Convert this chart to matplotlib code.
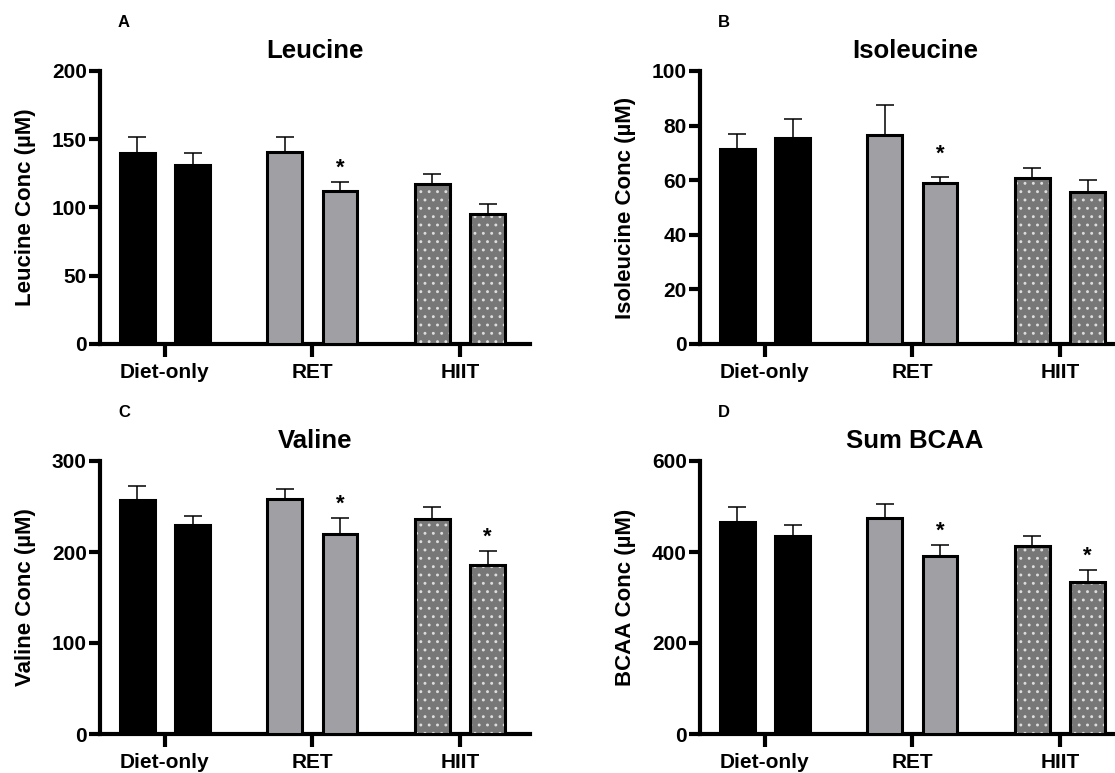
import matplotlib
matplotlib.use("Agg")

import matplotlib.pyplot as plt
import numpy as np

plt.rcParams.update(
    {
        "font.family": ["Liberation Sans", "DejaVu Sans"],
        "font.weight": "bold",
        "hatch.linewidth": 0.9,
    }
)

GROUPS = ["Diet-only", "RET", "HIIT"]

# two bars per group, in group order
LEUCINE_MEAN = [140, 131, 141, 112, 117, 95]
LEUCINE_SEM = [12, 9, 10.5, 6.5, 7.5, 7.5]
LEUCINE_STARS = [False, False, False, True, False, False]

ISOLEUCINE_MEAN = [71.5, 75.5, 76.5, 59, 60.7, 55.5]
ISOLEUCINE_SEM = [5.3, 7.1, 11.2, 2.3, 3.8, 4.6]
ISOLEUCINE_STARS = [False, False, False, True, False, False]

VALINE_MEAN = [257.5, 230, 258, 220, 236.5, 185.5]
VALINE_SEM = [15, 10, 11, 17.5, 12.5, 15.3]
VALINE_STARS = [False, False, False, True, False, True]

BCAA_MEAN = [467, 435.5, 474, 390.5, 413, 334]
BCAA_SEM = [32, 23, 32, 24.5, 22.5, 26.5]
BCAA_STARS = [False, False, False, True, False, True]

FIG_W, FIG_H = 1115, 773
DPI = 100

BAR_WIDTH = 0.235
BAR_OFFSET = 0.188
X_LEFT = -0.44
PX_PER_GROUP = 147.5

RET_GRAY = "#a09fa4"
HIIT_GRAY = "#777777"


def fig_rect(left, top, width, height):
    """Pixel box (from top-left) -> figure fraction rect."""
    return [left / FIG_W, 1 - (top + height) / FIG_H, width / FIG_W, height / FIG_H]


def draw_bars(ax, xs, means):
    for i, (x, m) in enumerate(zip(xs, means)):
        group = i // 2
        if group == 0:
            ax.bar(x, m, BAR_WIDTH, color="black", edgecolor="black", linewidth=2.2, zorder=3)
        elif group == 1:
            ax.bar(x, m, BAR_WIDTH, color=RET_GRAY, edgecolor="black", linewidth=2.2, zorder=3)
        else:
            # dotted fill: grey base, light hatch on top, then the black outline
            ax.bar(x, m, BAR_WIDTH, color=HIIT_GRAY, linewidth=0, zorder=3)
            ax.bar(x, m, BAR_WIDTH, color="none", edgecolor="#dedede", hatch="..",
                   linewidth=0, zorder=3.1)
            ax.bar(x, m, BAR_WIDTH, color="none", edgecolor="black", linewidth=2.2, zorder=3.2)


def draw_panel(fig, left, top, width, letter, title, ylabel, means, sems, stars, ymax, ystep,
               star_pad=6):
    height = 273
    ax = fig.add_axes(fig_rect(left, top, width, height))

    xs = np.repeat(np.arange(len(GROUPS)), 2) + np.tile([-BAR_OFFSET, BAR_OFFSET], len(GROUPS))
    draw_bars(ax, xs, means)
    ax.errorbar(xs, means, yerr=[np.zeros(len(means)), sems], fmt="none", ecolor="black",
                elinewidth=1.1, capsize=6.8, capthick=1.1, zorder=2)

    for x, m, s, flag in zip(xs, means, sems, stars):
        if flag:
            ax.annotate("*", xy=(x, m + s), xytext=(0, star_pad), textcoords="offset points",
                        ha="center", va="baseline", fontsize=16, fontweight="bold")

    ax.set_xlim(X_LEFT, X_LEFT + width / PX_PER_GROUP)
    ax.set_ylim(0, ymax)
    ax.set_yticks(np.arange(0, ymax + 1, ystep))
    ax.set_xticks(range(len(GROUPS)))
    ax.set_xticklabels(GROUPS)

    for side in ("top", "right"):
        ax.spines[side].set_visible(False)
    for side in ("left", "bottom"):
        ax.spines[side].set_linewidth(3)
    ax.tick_params(axis="both", width=3, length=8, labelsize=15, pad=1.5)
    ax.tick_params(axis="x", length=9, pad=5)
    for lab in ax.get_xticklabels() + ax.get_yticklabels():
        lab.set_fontweight("bold")

    ax.set_ylabel(ylabel, fontsize=16, fontweight="bold")
    ax.yaxis.set_label_coords(-64 / width, 0.5)

    cx = left + 0.5 * 430
    fig.text(cx / FIG_W, 1 - (top - 13) / FIG_H, title, ha="center", va="baseline",
             fontsize=18.5, fontweight="bold")
    fig.text((left + 18) / FIG_W, 1 - (top - 44) / FIG_H, letter, ha="left", va="baseline",
             fontsize=12, fontweight="bold")
    return ax


fig = plt.figure(figsize=(FIG_W / DPI, FIG_H / DPI), dpi=DPI)

draw_panel(fig, 100, 71, 430, "A", "Leucine", "Leucine Conc (µM)",
           LEUCINE_MEAN, LEUCINE_SEM, LEUCINE_STARS, 200, 50)
draw_panel(fig, 700, 71, 415, "B", "Isoleucine", "Isoleucine Conc (µM)",
           ISOLEUCINE_MEAN, ISOLEUCINE_SEM, ISOLEUCINE_STARS, 100, 20, star_pad=12)
draw_panel(fig, 100, 461, 430, "C", "Valine", "Valine Conc (µM)",
           VALINE_MEAN, VALINE_SEM, VALINE_STARS, 300, 100)
draw_panel(fig, 700, 461, 415, "D", "Sum BCAA", "BCAA Conc (µM)",
           BCAA_MEAN, BCAA_SEM, BCAA_STARS, 600, 200)

fig.savefig("out.png", dpi=DPI)
